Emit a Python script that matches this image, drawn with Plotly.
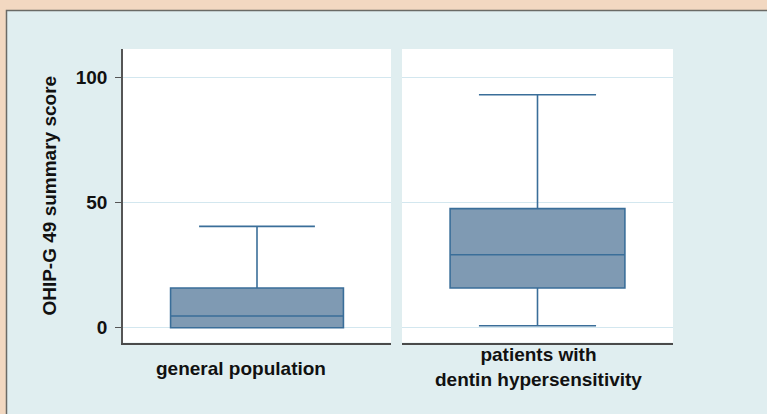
import plotly.graph_objects as go

# ---- data ----
groups = ["general population", "patients with<br>dentin hypersensitivity"]
lower_whisker = [0.0, 0.8]
q1_vals = [0.0, 15.9]
median_vals = [4.7, 29.2]
q3_vals = [15.9, 47.6]
upper_whisker = [40.5, 93.1]
y_ticks = [0, 50, 100]
y_title = "OHIP-G 49 summary score"

W, H = 767, 414
FILL = "#7F9AB3"
EDGE = "#3A6E99"
FONT = "Liberation Sans, Arial, sans-serif"

def px_x(p):
    return p / W

def px_y(p):
    return 1 - p / H

fig = go.Figure()

domains = [(123, 391), (402, 673)]
for i, g in enumerate(groups):
    fig.add_trace(go.Box(
        x=[0], q1=[q1_vals[i]], median=[median_vals[i]], q3=[q3_vals[i]],
        lowerfence=[lower_whisker[i]], upperfence=[upper_whisker[i]],
        width=0.645, whiskerwidth=0.67,
        fillcolor=FILL, line=dict(color=EDGE, width=1.6),
        boxpoints=False, showlegend=False, hoverinfo="skip",
        xaxis="x" if i == 0 else "x2", yaxis="y" if i == 0 else "y2",
    ))

ytop, ybot = 49, 342.5
ydom = [px_y(ybot), px_y(ytop)]
yrange = [-5.9, 111.4]

shapes = [
    dict(type="rect", xref="paper", yref="paper",
         x0=px_x(6.5), x1=1.01, y0=-0.01, y1=px_y(10.5),
         fillcolor="#E0EEF0", line=dict(color="#6A6A66", width=1.5), layer="below"),
]
for (a, b) in domains:
    shapes.append(dict(type="rect", xref="paper", yref="paper",
                       x0=px_x(a), x1=px_x(b), y0=px_y(ybot), y1=px_y(ytop),
                       fillcolor="white", line=dict(width=0), layer="below"))

bold = dict(size=19, family=FONT, color="#111111", weight="bold")

layout = dict(
    width=W, height=H,
    margin=dict(l=0, r=0, t=0, b=0),
    paper_bgcolor="#F2D8C1",
    plot_bgcolor="white",
    font=dict(family=FONT, color="#111111"),
    xaxis=dict(domain=[px_x(domains[0][0]), px_x(domains[0][1])], range=[-0.5, 0.5],
               showticklabels=False, ticks="", showgrid=False, zeroline=False,
               showline=True, linecolor="#4A4A4A", linewidth=2, fixedrange=True),
    xaxis2=dict(domain=[px_x(domains[1][0]), px_x(domains[1][1])], range=[-0.5, 0.5],
                showticklabels=False, ticks="", showgrid=False, zeroline=False,
                showline=True, linecolor="#4A4A4A", linewidth=2, anchor="y2"),
    yaxis=dict(domain=ydom, range=yrange, tickvals=y_ticks,
               ticks="outside", ticklen=6, tickcolor="#555555",
               showline=True, linecolor="#555555", linewidth=1.5,
               gridcolor="#D3E7EF", gridwidth=1, zeroline=False,
               tickfont=bold, ticklabelstandoff=4,
               title=dict(text=y_title, standoff=14, font=bold)),
    yaxis2=dict(domain=ydom, range=yrange, tickvals=y_ticks, showticklabels=False,
                ticks="", showline=False, gridcolor="#D3E7EF", gridwidth=1,
                zeroline=False, anchor="x2"),
    shapes=shapes,
    annotations=[
        dict(text=groups[0], xref="paper", yref="paper", x=px_x(241), y=px_y(368),
             showarrow=False, xanchor="center", yanchor="middle", font=bold),
        dict(text=groups[1], xref="paper", yref="paper", x=px_x(538), y=px_y(367),
             showarrow=False, xanchor="center", yanchor="middle", font=bold),
    ],
)
fig.update_layout(**layout)
fig.write_html("out.html", config={"displayModeBar": False},
               post_script="document.body.style.margin='0';document.body.style.overflow='hidden';")
